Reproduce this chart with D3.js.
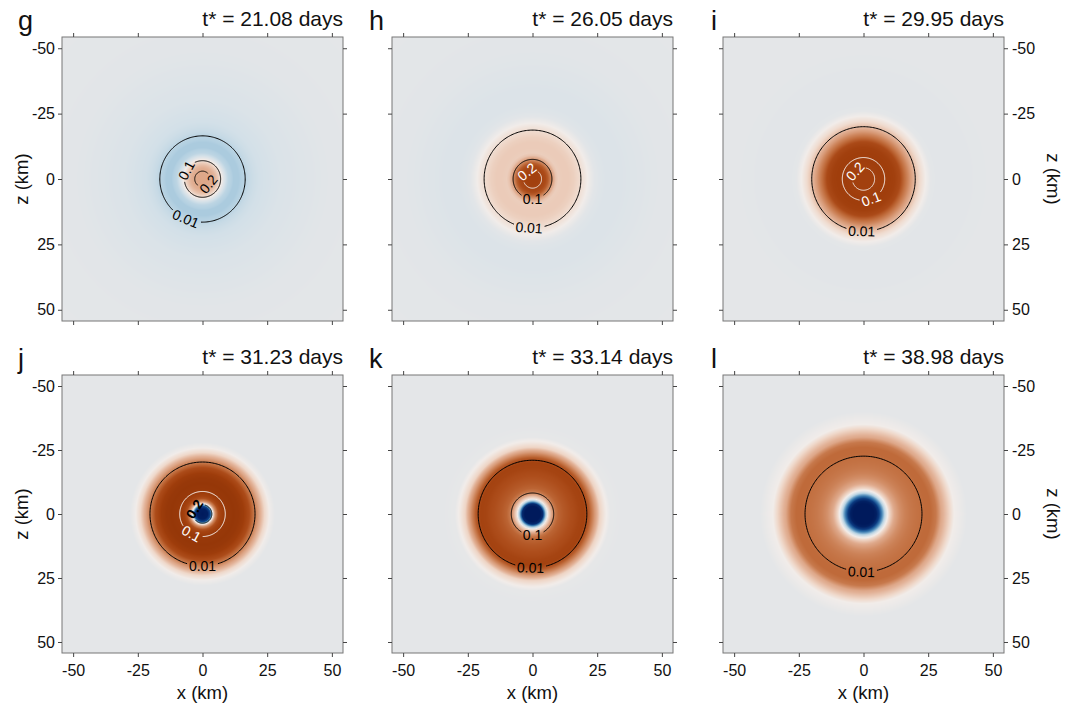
<!DOCTYPE html>
<html lang="en">
<head>
    <meta charset="UTF-8">
    <title>Perturbation snapshots</title>
    <style>
        body {
            margin: 0;
            background: #ffffff;
            font-family: "Liberation Sans", Arial, sans-serif;
        }
        .tick-label { font-size: 16px; fill: #111; }
        .axis-title { font-size: 18.5px; fill: #111; }
        .panel-title { font-size: 21px; fill: #111; }
        .panel-letter { font-size: 27px; fill: #111; }
        .clabel { font-size: 14px; }
    </style>
</head>
<body>
    <svg id="fig" width="1075" height="704"></svg>
    <script src="https://d3js.org/d3.v7.min.js"></script>
    <script>
        // panel data
        const panelIds = ["g", "h", "i", "j", "k", "l"];
        const times = ["21.08", "26.05", "29.95", "31.23", "33.14", "38.98"];
        const xTicks = [-50, -25, 0, 25, 50];
        const zTicks = [-50, -25, 0, 25, 50];

        // radial profiles of the (normalised) field
        const radiusKm = [0, 2, 3, 4, 5, 6, 7, 8, 9, 10, 12, 14, 16, 18, 20, 22, 24, 26, 28, 30, 35, 40, 50, 80];
        const profileG = [0.3, 0.3, 0.29, 0.27, 0.22, 0.15, 0.06, -0.06, -0.16, -0.24, -0.3, -0.3, -0.26, -0.2, -0.17, -0.15, -0.14, -0.13, -0.12, -0.11, -0.1, -0.09, -0.07, -0.06];
        const profileH = [0.9, 0.9, 0.88, 0.85, 0.8, 0.7, 0.5, 0.3, 0.18, 0.14, 0.15, 0.15, 0.13, 0.09, 0.04, -0.02, -0.07, -0.09, -0.1, -0.1, -0.1, -0.09, -0.07, -0.06];
        const profileI = [0.9, 0.9, 0.9, 0.9, 0.9, 0.91, 0.92, 0.92, 0.92, 0.92, 0.9, 0.82, 0.6, 0.38, 0.2, 0.08, 0.0, -0.06, -0.07, -0.07, -0.07, -0.07, -0.06, -0.06];
        const profileJ = [-1, -0.98, -0.8, 0.0, 0.45, 0.75, 0.88, 0.93, 0.95, 0.96, 0.97, 0.96, 0.93, 0.8, 0.55, 0.3, 0.1, -0.01, -0.06, -0.06, -0.06, -0.06, -0.06, -0.06];
        const profileK = [-1, -1, -1, -0.92, -0.35, 0.05, 0.22, 0.42, 0.58, 0.66, 0.72, 0.76, 0.8, 0.86, 0.88, 0.7, 0.38, 0.12, 0.02, -0.05, -0.06, -0.06, -0.06, -0.06];
        const profileL = [-1, -1, -1, -1, -0.97, -0.85, -0.6, -0.3, -0.05, 0.1, 0.3, 0.42, 0.5, 0.55, 0.58, 0.6, 0.63, 0.63, 0.55, 0.3, 0.0, -0.06, -0.06, -0.06];
        const profiles = [profileG, profileH, profileI, profileJ, profileK, profileL];

        // contour levels and their radii (km)
        const contoursG = [{ level: "0.01", r: 16.5 }, { level: "0.1", r: 7 }, { level: "0.2", r: 3 }];
        const contoursH = [{ level: "0.01", r: 18.7 }, { level: "0.1", r: 7.5 }, { level: "0.2", r: 3.5 }];
        const contoursI = [{ level: "0.01", r: 20 }, { level: "0.1", r: 8.2 }, { level: "0.2", r: 4.3 }];
        const contoursJ = [{ level: "0.01", r: 20.3 }, { level: "0.1", r: 8.8 }, { level: "0.2", r: 3.6 }];
        const contoursK = [{ level: "0.01", r: 21 }, { level: "0.1", r: 8.2 }];
        const contoursL = [{ level: "0.01", r: 22.6 }];
        const contours = [contoursG, contoursH, contoursI, contoursJ, contoursK, contoursL];

        // contour styling: line colour and label angle (deg, clockwise from +x on screen)
        const contourStyle = [
            [{ c: "#000", a: 113 }, { c: "#000", a: 208 }, { c: "#000", a: 40 }],
            [{ c: "#000", a: 94 }, { c: "#000", a: 90 }, { c: "#fff", a: 232 }],
            [{ c: "#000", a: 92 }, { c: "#fff", a: 69 }, { c: "#fff", a: 222 }],
            [{ c: "#000", a: 90 }, { c: "#fff", a: 119 }, { c: "#000", a: 212, bold: true }],
            [{ c: "#000", a: 92 }, { c: "#000", a: 90 }],
            [{ c: "#000", a: 92 }]
        ];

        // layout
        const colLeft = [62, 392, 723];
        const letterShift = [-44, -23, -12];
        const rowTop = [37, 375];
        const rowHeight = [284, 278];
        const panelW = 281;
        const dom = [-54.3, 54.3];

        // diverging colour map (navy - white - brown)
        const color = d3.scaleLinear()
            .domain([-1, -0.85, -0.65, -0.45, -0.28, -0.15, -0.06, 0, 0.1, 0.25, 0.45, 0.62, 0.78, 0.92, 1])
            .range(["#001a5c", "#0b3a80", "#2f6fa8", "#6fa3c9", "#b3d0e1", "#d3e0e8", "#e4e6e8", "#f1ece9",
                    "#efd8ca", "#e2b196", "#d08a62", "#c06c3c", "#ad4d1b", "#a03e0c", "#8f3306"])
            .interpolate(d3.interpolateRgb)
            .clamp(true);

        const svg = d3.select("#fig");

        panelIds.forEach((id, p) => {
            const col = p % 3, row = Math.floor(p / 3);
            const x0 = colLeft[col], y0 = rowTop[row], h = rowHeight[row];
            const x = d3.scaleLinear().domain(dom).range([x0, x0 + panelW]);
            const z = d3.scaleLinear().domain(dom).range([y0, y0 + h]);
            const prof = d3.scaleLinear().domain(radiusKm).range(profiles[p]).clamp(true);

            // field image
            const cv = document.createElement("canvas");
            cv.width = panelW; cv.height = h;
            const ctx = cv.getContext("2d");
            const img = ctx.createImageData(panelW, h);
            for (let j = 0; j < h; j++) {
                for (let i = 0; i < panelW; i++) {
                    const xv = x.invert(x0 + i + 0.5), zv = z.invert(y0 + j + 0.5);
                    const c = d3.rgb(color(prof(Math.hypot(xv, zv))));
                    const k = (j * panelW + i) * 4;
                    img.data[k] = c.r; img.data[k + 1] = c.g; img.data[k + 2] = c.b; img.data[k + 3] = 255;
                }
            }
            ctx.putImageData(img, 0, 0);
            svg.append("image")
                .attr("x", x0).attr("y", y0)
                .attr("width", panelW).attr("height", h)
                .attr("href", cv.toDataURL());

            // contours with labels
            const g = svg.append("g");
            contours[p].forEach((ct, ci) => {
                const st = contourStyle[p][ci];
                const th = st.a * Math.PI / 180;
                const lx = x(ct.r * Math.cos(th)), ly = z(ct.r * Math.sin(th));
                const rot = Math.sin(th) >= 0 ? st.a - 90 : st.a + 90;
                const t = g.append("text")
                    .attr("class", "clabel")
                    .attr("x", lx).attr("y", ly)
                    .attr("dy", "0.35em")
                    .attr("text-anchor", "middle")
                    .attr("fill", st.c)
                    .attr("font-weight", st.bold ? "bold" : "normal")
                    .attr("transform", `rotate(${rot},${lx},${ly})`)
                    .text(ct.level);
                const rPx = x(ct.r) - x(0);
                const half = (t.node().getComputedTextLength() / 2 + 2) / rPx;
                const angles = d3.range(0, 201).map(s => th + half + (2 * Math.PI - 2 * half) * s / 200);
                const line = d3.line()
                    .x(a => x(ct.r * Math.cos(a)))
                    .y(a => z(ct.r * Math.sin(a)));
                g.insert("path", "text")
                    .attr("d", line(angles))
                    .attr("fill", "none")
                    .attr("stroke", st.c)
                    .attr("stroke-width", 1);
            });

            // frame and ticks on all sides
            svg.append("rect")
                .attr("x", x0).attr("y", y0)
                .attr("width", panelW).attr("height", h)
                .attr("fill", "none").attr("stroke", "#777").attr("stroke-width", 1);

            const plain = d => String(d); // hyphen minus, as in the original
            const bottom = d3.axisBottom(x).tickValues(xTicks).tickSize(4).tickPadding(8)
                .tickFormat(row === 1 ? plain : "");
            const top = d3.axisTop(x).tickValues(xTicks).tickSize(4).tickFormat("");
            const left = d3.axisLeft(z).tickValues(zTicks).tickSize(4).tickPadding(3)
                .tickFormat(col === 0 ? plain : "");
            const right = d3.axisRight(z).tickValues(zTicks).tickSize(4).tickPadding(4)
                .tickFormat(col === 2 ? plain : "");

            [[bottom, `translate(0,${y0 + h})`], [top, `translate(0,${y0})`],
             [left, `translate(${x0},0)`], [right, `translate(${x0 + panelW},0)`]].forEach(([ax, tr]) => {
                const a = svg.append("g").attr("transform", tr).call(ax);
                a.select(".domain").remove();
                a.selectAll(".tick line").attr("stroke", "#444");
                a.selectAll(".tick text").attr("class", "tick-label").attr("fill", "#111")
                    .style("font-family", "inherit").attr("font-size", null);
            });

            // titles
            svg.append("text").attr("class", "panel-title")
                .attr("x", x0 + panelW).attr("y", y0 - 11)
                .attr("text-anchor", "end")
                .text(`t* = ${times[p]} days`);
            svg.append("text").attr("class", "panel-letter")
                .attr("x", x0 + letterShift[col]).attr("y", y0 - 7)
                .text(id);

            if (row === 1) {
                svg.append("text").attr("class", "axis-title")
                    .attr("x", x(0)).attr("y", 699)
                    .attr("text-anchor", "middle")
                    .text("x (km)");
            }
            if (col === 0) {
                svg.append("text").attr("class", "axis-title")
                    .attr("transform", `translate(28,${z(0)}) rotate(-90)`)
                    .attr("text-anchor", "middle")
                    .text("z (km)");
            }
            if (col === 2) {
                svg.append("text").attr("class", "axis-title")
                    .attr("transform", `translate(1047,${z(0)}) rotate(90)`)
                    .attr("text-anchor", "middle")
                    .text("z (km)");
            }
        });
    </script>
</body>
</html>
